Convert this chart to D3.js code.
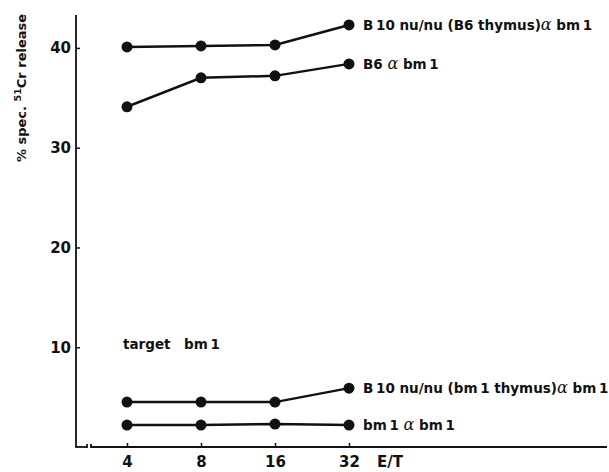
<!DOCTYPE html>
<html>
<head>
<meta charset="utf-8">
<script src="https://cdn.jsdelivr.net/npm/d3@7"></script>
<style>
  body { margin: 0; background: #fff; }
  svg { display: block; }
  text { font-family: 'DejaVu Sans', sans-serif; font-weight: bold; fill: #111; }
  .alpha { font-family: 'DejaVu Serif', 'Liberation Serif', serif; font-style: italic; font-weight: normal; }
</style>
</head>
<body>
<div id="chart"></div>
<script>
// E/T ratios on the x axis
const ratios = [4, 8, 16, 32];

// % specific 51Cr release, one array per effector group
const b10B6Thymus = [40.1, 40.2, 40.3, 42.3];
const b6 = [34.1, 37.0, 37.2, 38.4];
const b10Bm1Thymus = [4.5, 4.5, 4.5, 5.9];
const bm1 = [2.2, 2.2, 2.3, 2.2];

// label parts: [before alpha, after alpha]
const seriesNames = [
  ['B\u200910 nu/nu (B6 thymus)', 'bm\u20091'],
  ['B6 ', 'bm\u20091'],
  ['B\u200910 nu/nu  (bm\u20091 thymus)', 'bm\u20091'],
  ['bm\u20091 ', 'bm\u20091']
];
const yTicks = [10, 20, 30, 40];

const width = 609;
const height = 472;
const axisX = 76;
const axisY = 447;

const series = [b10B6Thymus, b6, b10Bm1Thymus, bm1].map((values, i) => ({
  name: seriesNames[i],
  points: values.map((v, j) => ({x: ratios[j], y: v}))
}));

const x = d3.scaleLog().base(2)
  .domain([4, 32])
  .range([127, 349]);

const y = d3.scaleLinear()
  .domain([0, 43.3])
  .range([axisY, 15]);

const svg = d3.select('#chart').append('svg')
  .attr('width', width)
  .attr('height', height);

// y axis: ticks point inward, labels to the left
const yAxis = svg.append('g')
  .attr('transform', `translate(${axisX},0)`)
  .call(d3.axisLeft(y).tickValues(yTicks).tickSizeInner(-4).tickSizeOuter(0).tickPadding(5));
yAxis.select('.domain').remove();
yAxis.selectAll('.tick line').attr('stroke', '#111').attr('stroke-width', 1.5);
yAxis.selectAll('.tick text').attr('font-size', 15).attr('font-family', null);
yAxis.append('line')
  .attr('y1', y(0)).attr('y2', y(43.3))
  .attr('stroke', '#111').attr('stroke-width', 1.8);

// x axis with a small break next to the origin
const xAxis = svg.append('g')
  .attr('transform', `translate(0,${axisY})`)
  .call(d3.axisBottom(x).tickValues(ratios).tickFormat(d3.format('d'))
    .tickSizeInner(-4).tickSizeOuter(0).tickPadding(9));
xAxis.select('.domain').remove();
xAxis.selectAll('.tick line').attr('stroke', '#111').attr('stroke-width', 1.5);
xAxis.selectAll('.tick text').attr('font-size', 15).attr('font-family', null);

const xLine = svg.append('g')
  .attr('stroke', '#111')
  .attr('stroke-width', 1.8);
xLine.append('line').attr('x1', axisX - 0.9).attr('x2', 87).attr('y1', axisY).attr('y2', axisY);
xLine.append('line').attr('x1', 91).attr('x2', width - 2).attr('y1', axisY).attr('y2', axisY);
xLine.append('line').attr('x1', 87).attr('x2', 87).attr('y1', axisY - 3).attr('y2', axisY + 1);
xLine.append('line').attr('x1', 91).attr('x2', 91).attr('y1', axisY - 3).attr('y2', axisY + 1);

svg.append('text')
  .attr('x', 377)
  .attr('y', 467)
  .attr('font-size', 15)
  .text('E/T');

// y axis title
const yTitle = svg.append('text')
  .attr('transform', 'translate(26,88) rotate(-90)')
  .attr('text-anchor', 'middle')
  .attr('font-size', 13);
yTitle.append('tspan').text('% spec. ');
yTitle.append('tspan').attr('dy', -5).attr('font-size', 9.5).text('51');
yTitle.append('tspan').attr('dy', 5).text('Cr release');

svg.append('text')
  .attr('x', 123)
  .attr('y', 349)
  .attr('font-size', 13.5)
  .text('target\u2003bm\u20091');

// lines and markers
const line = d3.line()
  .x((d) => x(d.x))
  .y((d) => y(d.y));

const groups = svg.append('g')
  .selectAll('g')
  .data(series)
  .join('g');

groups.append('path')
  .attr('fill', 'none')
  .attr('stroke', '#111')
  .attr('stroke-width', 2.5)
  .attr('d', (d) => line(d.points));

groups.selectAll('circle')
  .data((d) => d.points)
  .join('circle')
  .attr('cx', (d) => x(d.x))
  .attr('cy', (d) => y(d.y))
  .attr('r', 5.5)
  .attr('fill', '#111');

const labels = groups.append('text')
  .attr('x', (d) => x(32) + 14)
  .attr('y', (d) => y(d.points[d.points.length - 1].y) + 5)
  .attr('font-size', 13.5);
labels.append('tspan').text((d) => d.name[0]);
labels.append('tspan').attr('class', 'alpha').attr('font-size', 16).text('\u03b1');
labels.append('tspan').text((d) => ' ' + d.name[1]);
</script>
</body>
</html>
